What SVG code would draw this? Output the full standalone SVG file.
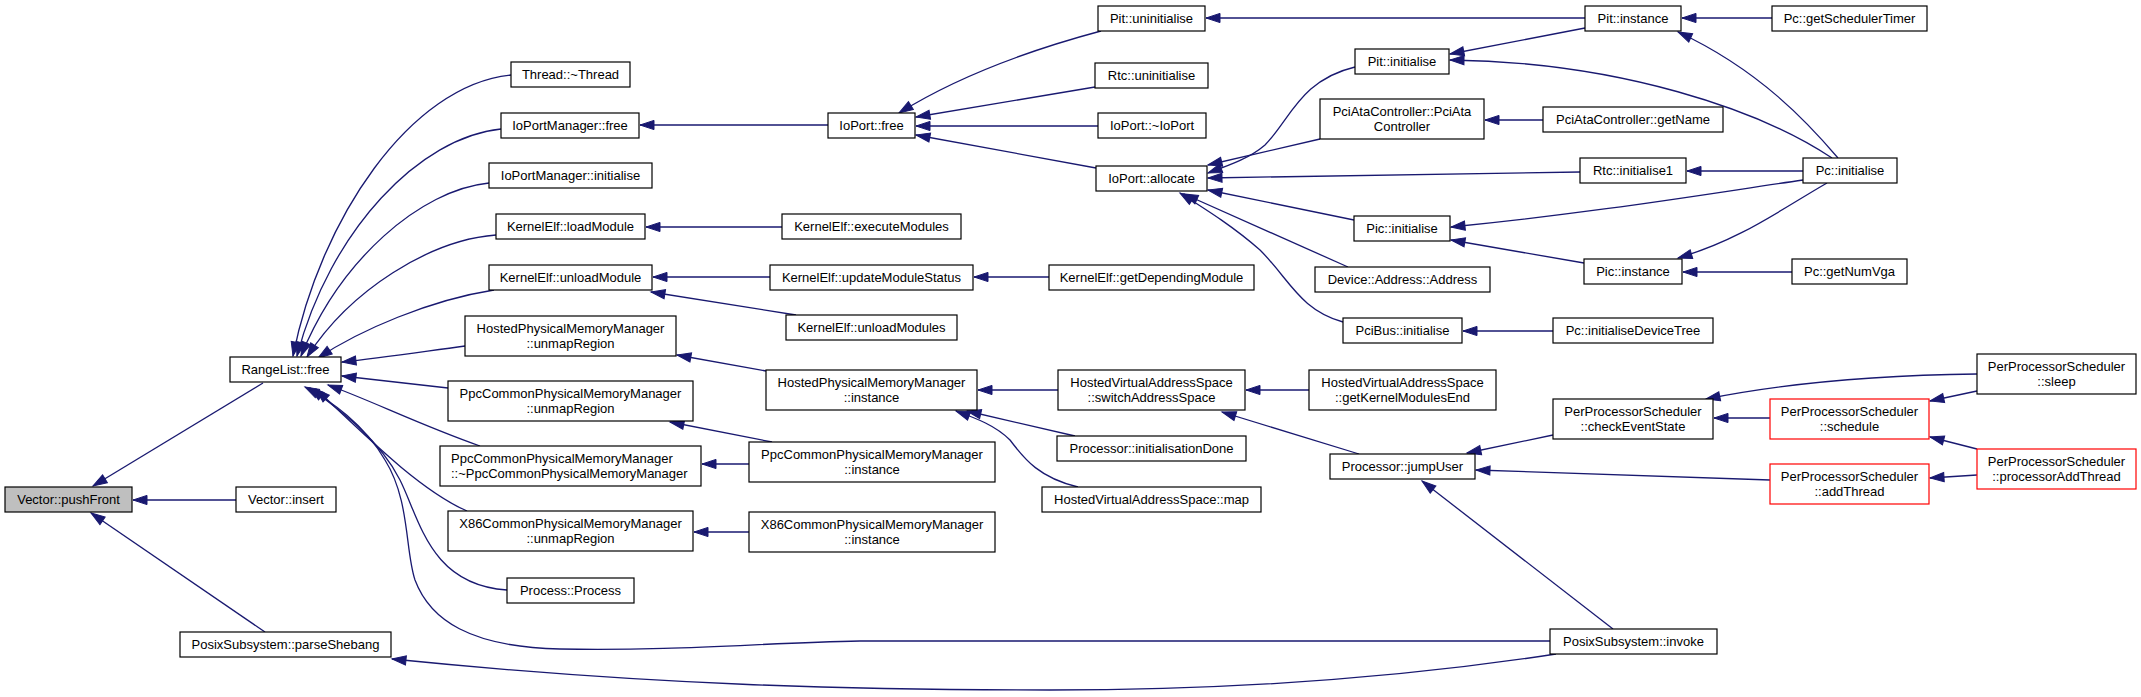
<svg xmlns="http://www.w3.org/2000/svg" width="2141" height="697" viewBox="0 0 2141 697">
<style>
.node rect{fill:#ffffff;stroke:#000000;stroke-width:1.2}
.node.red rect{stroke:#ff0000}
.node.cur rect{fill:#bfbfbf}
text{font-family:"Liberation Sans",Arial,Helvetica,sans-serif;font-size:13px;fill:#000;text-anchor:middle}
text.l{text-anchor:start}
.edges path{fill:none;stroke:#191970;stroke-width:1.3;marker-end:url(#ah)}
</style>
<defs>
<marker id="ah" markerUnits="userSpaceOnUse" markerWidth="14" markerHeight="10" refX="14" refY="5" orient="auto" overflow="visible">
<path d="M0,0.4 L14,5 L0,9.6 z" fill="#191970" stroke="#191970" stroke-width="1"/>
</marker>
</defs>
<rect x="0" y="0" width="2141" height="697" fill="#ffffff"/>
<g class="edges">
<path d="M263,383 L93,486"/>
<path d="M236,500 L133,500"/>
<path d="M265,632 L91,513"/>
<path d="M511,75 C410,85 320,220 293,356"/>
<path d="M501,129 C420,137 330,230 297,356"/>
<path d="M489,183 C420,190 340,260 301,356"/>
<path d="M496,235 C430,240 350,290 307,357"/>
<path d="M494,290 C430,300 360,330 318,358"/>
<path d="M465,346 C420,352 380,358 342,362"/>
<path d="M448,388 C410,384 375,380 342,376"/>
<path d="M480,446 C420,425 370,400 328,385"/>
<path d="M467,511 C420,490 370,440 316,389"/>
<path d="M507,590 C430,585 420,520 400,480 C380,440 340,410 310,388"/>
<path d="M1550,641 L860,641 C760,643 680,651 560,649 C470,647 430,620 415,580 C405,550 410,500 385,460 C365,425 330,400 305,387"/>
<path d="M1556,654 C1420,675 1250,690 1050,690 C850,690 650,685 392,659"/>
<path d="M828,125 L640,125"/>
<path d="M782,227 L646,227"/>
<path d="M770,277 L653,277"/>
<path d="M796,315 L651,292"/>
<path d="M1049,277 L974,277"/>
<path d="M1101,31 C1030,50 960,75 899,113"/>
<path d="M1095,87 L916,117"/>
<path d="M1098,126 L916,126"/>
<path d="M1096,168 L916,135"/>
<path d="M1585,18 L1206,18"/>
<path d="M1772,18 L1682,18"/>
<path d="M1585,28 L1450,54"/>
<path d="M1838,158 C1810,125 1760,70 1678,32"/>
<path d="M1832,158 C1760,110 1620,62 1450,60"/>
<path d="M1355,67 C1300,80 1290,120 1265,145 C1250,158 1230,165 1208,173"/>
<path d="M1320,139 L1208,165"/>
<path d="M1580,172 L1208,178"/>
<path d="M1354,220 L1208,190"/>
<path d="M1348,267 L1184,194"/>
<path d="M1343,322 C1300,310 1290,280 1260,250 C1235,228 1210,212 1180,193"/>
<path d="M1543,120 L1485,120"/>
<path d="M1803,171 L1687,171"/>
<path d="M1803,180 C1700,195 1600,212 1451,227"/>
<path d="M1584,263 L1451,240"/>
<path d="M1827,183 C1780,210 1740,240 1678,258"/>
<path d="M1792,272 L1683,272"/>
<path d="M1553,331 L1463,331"/>
<path d="M766,371 L677,355"/>
<path d="M772,442 L670,422"/>
<path d="M749,464 L702,464"/>
<path d="M749,532 L694,532"/>
<path d="M1058,390 L978,390"/>
<path d="M1075,436 L967,411"/>
<path d="M1078,487 C1040,478 1025,460 1010,440 C995,425 975,418 956,411"/>
<path d="M1309,390 L1246,390"/>
<path d="M1359,454 L1222,412"/>
<path d="M1553,435 L1467,453"/>
<path d="M1770,480 L1476,470"/>
<path d="M1613,629 L1422,481"/>
<path d="M1770,418 L1714,418"/>
<path d="M1977,374 C1900,375 1800,380 1706,399"/>
<path d="M1977,391 L1930,401"/>
<path d="M1977,449 L1930,437"/>
<path d="M1977,475 L1930,478"/>
</g>
<g id="n1" class="node cur"><rect x="5" y="487" width="127" height="25"/><text x="68.5" y="504">Vector::pushFront</text></g>
<g id="n2" class="node"><rect x="230" y="357" width="111" height="25"/><text x="285.5" y="374">RangeList::free</text></g>
<g id="n3" class="node"><rect x="236" y="487" width="100" height="25"/><text x="286" y="504">Vector::insert</text></g>
<g id="n4" class="node"><rect x="180" y="632" width="211" height="25"/><text x="285.5" y="649">PosixSubsystem::parseShebang</text></g>
<g id="n5" class="node"><rect x="511" y="62" width="119" height="25"/><text x="570.5" y="79">Thread::~Thread</text></g>
<g id="n6" class="node"><rect x="501" y="113" width="138" height="25"/><text x="570" y="130">IoPortManager::free</text></g>
<g id="n7" class="node"><rect x="489" y="163" width="163" height="25"/><text x="570.5" y="180">IoPortManager::initialise</text></g>
<g id="n8" class="node"><rect x="496" y="214" width="149" height="25"/><text x="570.5" y="231">KernelElf::loadModule</text></g>
<g id="n9" class="node"><rect x="489" y="265" width="163" height="25"/><text x="570.5" y="282">KernelElf::unloadModule</text></g>
<g id="n10" class="node"><rect x="465" y="316" width="211" height="40"/><text x="570.5" y="333">HostedPhysicalMemoryManager</text><text x="570.5" y="348">::unmapRegion</text></g>
<g id="n11" class="node"><rect x="448" y="381" width="245" height="40"/><text x="570.5" y="398">PpcCommonPhysicalMemoryManager</text><text x="570.5" y="413">::unmapRegion</text></g>
<g id="n12" class="node"><rect x="440" y="446" width="261" height="40"/><text class="l" x="451" y="463">PpcCommonPhysicalMemoryManager</text><text class="l" x="451" y="478">::~PpcCommonPhysicalMemoryManager</text></g>
<g id="n13" class="node"><rect x="448" y="511" width="245" height="40"/><text x="570.5" y="528">X86CommonPhysicalMemoryManager</text><text x="570.5" y="543">::unmapRegion</text></g>
<g id="n14" class="node"><rect x="507" y="578" width="127" height="25"/><text x="570.5" y="595">Process::Process</text></g>
<g id="n15" class="node"><rect x="1550" y="629" width="167" height="25"/><text x="1633.5" y="646">PosixSubsystem::invoke</text></g>
<g id="n16" class="node"><rect x="828" y="113" width="87" height="25"/><text x="871.5" y="130">IoPort::free</text></g>
<g id="n17" class="node"><rect x="782" y="214" width="179" height="25"/><text x="871.5" y="231">KernelElf::executeModules</text></g>
<g id="n18" class="node"><rect x="770" y="265" width="203" height="25"/><text x="871.5" y="282">KernelElf::updateModuleStatus</text></g>
<g id="n19" class="node"><rect x="786" y="315" width="171" height="25"/><text x="871.5" y="332">KernelElf::unloadModules</text></g>
<g id="n20" class="node"><rect x="1049" y="265" width="205" height="25"/><text x="1151.5" y="282">KernelElf::getDependingModule</text></g>
<g id="n21" class="node"><rect x="766" y="370" width="211" height="40"/><text x="871.5" y="387">HostedPhysicalMemoryManager</text><text x="871.5" y="402">::instance</text></g>
<g id="n22" class="node"><rect x="749" y="442" width="246" height="40"/><text x="872" y="459">PpcCommonPhysicalMemoryManager</text><text x="872" y="474">::instance</text></g>
<g id="n23" class="node"><rect x="749" y="512" width="246" height="40"/><text x="872" y="529">X86CommonPhysicalMemoryManager</text><text x="872" y="544">::instance</text></g>
<g id="n24" class="node"><rect x="1098" y="6" width="107" height="25"/><text x="1151.5" y="23">Pit::uninitialise</text></g>
<g id="n25" class="node"><rect x="1095" y="63" width="113" height="25"/><text x="1151.5" y="80">Rtc::uninitialise</text></g>
<g id="n26" class="node"><rect x="1098" y="113" width="108" height="25"/><text x="1152" y="130">IoPort::~IoPort</text></g>
<g id="n27" class="node"><rect x="1096" y="166" width="111" height="25"/><text x="1151.5" y="183">IoPort::allocate</text></g>
<g id="n28" class="node"><rect x="1585" y="6" width="96" height="25"/><text x="1633" y="23">Pit::instance</text></g>
<g id="n29" class="node"><rect x="1772" y="6" width="155" height="25"/><text x="1849.5" y="23">Pc::getSchedulerTimer</text></g>
<g id="n30" class="node"><rect x="1355" y="49" width="94" height="25"/><text x="1402" y="66">Pit::initialise</text></g>
<g id="n31" class="node"><rect x="1320" y="99" width="164" height="40"/><text x="1402" y="116">PciAtaController::PciAta</text><text x="1402" y="131">Controller</text></g>
<g id="n32" class="node"><rect x="1543" y="107" width="180" height="25"/><text x="1633" y="124">PciAtaController::getName</text></g>
<g id="n33" class="node"><rect x="1580" y="158" width="106" height="25"/><text x="1633" y="175">Rtc::initialise1</text></g>
<g id="n34" class="node"><rect x="1803" y="158" width="94" height="25"/><text x="1850" y="175">Pc::initialise</text></g>
<g id="n35" class="node"><rect x="1354" y="216" width="96" height="25"/><text x="1402" y="233">Pic::initialise</text></g>
<g id="n36" class="node"><rect x="1584" y="259" width="98" height="25"/><text x="1633" y="276">Pic::instance</text></g>
<g id="n37" class="node"><rect x="1792" y="259" width="115" height="25"/><text x="1849.5" y="276">Pc::getNumVga</text></g>
<g id="n38" class="node"><rect x="1315" y="267" width="175" height="25"/><text x="1402.5" y="284">Device::Address::Address</text></g>
<g id="n39" class="node"><rect x="1343" y="318" width="119" height="25"/><text x="1402.5" y="335">PciBus::initialise</text></g>
<g id="n40" class="node"><rect x="1553" y="318" width="160" height="25"/><text x="1633" y="335">Pc::initialiseDeviceTree</text></g>
<g id="n41" class="node"><rect x="1058" y="370" width="187" height="40"/><text x="1151.5" y="387">HostedVirtualAddressSpace</text><text x="1151.5" y="402">::switchAddressSpace</text></g>
<g id="n42" class="node"><rect x="1057" y="436" width="189" height="25"/><text x="1151.5" y="453">Processor::initialisationDone</text></g>
<g id="n43" class="node"><rect x="1042" y="487" width="219" height="25"/><text x="1151.5" y="504">HostedVirtualAddressSpace::map</text></g>
<g id="n44" class="node"><rect x="1309" y="370" width="187" height="40"/><text x="1402.5" y="387">HostedVirtualAddressSpace</text><text x="1402.5" y="402">::getKernelModulesEnd</text></g>
<g id="n45" class="node"><rect x="1330" y="454" width="145" height="25"/><text x="1402.5" y="471">Processor::jumpUser</text></g>
<g id="n46" class="node"><rect x="1553" y="399" width="160" height="40"/><text x="1633" y="416">PerProcessorScheduler</text><text x="1633" y="431">::checkEventState</text></g>
<g id="n47" class="node red"><rect x="1770" y="399" width="159" height="40"/><text x="1849.5" y="416">PerProcessorScheduler</text><text x="1849.5" y="431">::schedule</text></g>
<g id="n48" class="node red"><rect x="1770" y="464" width="159" height="40"/><text x="1849.5" y="481">PerProcessorScheduler</text><text x="1849.5" y="496">::addThread</text></g>
<g id="n49" class="node"><rect x="1977" y="354" width="159" height="40"/><text x="2056.5" y="371">PerProcessorScheduler</text><text x="2056.5" y="386">::sleep</text></g>
<g id="n50" class="node red"><rect x="1977" y="449" width="159" height="40"/><text x="2056.5" y="466">PerProcessorScheduler</text><text x="2056.5" y="481">::processorAddThread</text></g>
</svg>
